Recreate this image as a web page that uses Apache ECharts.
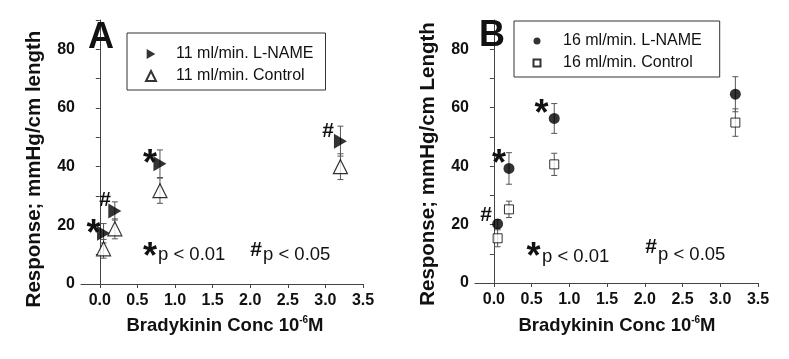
<!DOCTYPE html>
<html>
<head>
<meta charset="utf-8">
<script src="https://cdn.jsdelivr.net/npm/echarts@6/dist/echarts.min.js"></script>
<style>
html,body{margin:0;padding:0;background:#fff;}
#chart{width:789px;height:359px;}
</style>
</head>
<body>
<div id="chart"></div>
<script>
// ---- data ----
const concs = [0.05, 0.2, 0.8, 3.2];              // Bradykinin conc (10^-6 M)
const aLname = [17.3, 24.9, 41.0, 48.7];          // 11 ml/min L-NAME
const aLnameErr = [3.3, 3.1, 4.7, 5.1];
const aCtrl = [12.0, 18.8, 31.8, 40.0];           // 11 ml/min Control
const aCtrlErr = [3.2, 3.4, 4.3, 4.4];
const bLname = [20.2, 39.2, 56.3, 64.6];          // 16 ml/min L-NAME
const bLnameErr = [1.5, 5.4, 5.1, 6.0];
const bCtrl = [15.3, 25.2, 40.6, 54.9];           // 16 ml/min Control
const bCtrlErr = [2.9, 2.8, 3.8, 4.7];
const xTickVals = [0, 0.5, 1, 1.5, 2, 2.5, 3, 3.5];
const yTickVals = [0, 20, 40, 60, 80];

const FONT = '"Liberation Sans", Arial, sans-serif';
const pts = (ys) => concs.map((x, i) => [x, ys[i]]);
const errPts = (ys, es) => concs.map((x, i) => [x, ys[i], es[i]]);

function errItem(params, api) {
  const x = api.value(0), y = api.value(1), e = api.value(2);
  const t = api.coord([x, y + e]), b = api.coord([x, y - e]);
  const w = 3;
  const st = { stroke: '#555', lineWidth: 1 };
  return { type: 'group', children: [
    { type: 'line', shape: { x1: t[0], y1: t[1], x2: b[0], y2: b[1] }, style: st },
    { type: 'line', shape: { x1: t[0] - w, y1: t[1], x2: t[0] + w, y2: t[1] }, style: st },
    { type: 'line', shape: { x1: b[0] - w, y1: b[1], x2: b[0] + w, y2: b[1] }, style: st }
  ]};
}

function xAxisDef(gi) {
  return {
    gridIndex: gi, type: 'value', min: -0.25, max: 3.5, interval: 0.25,
    axisLine: { show: true, onZero: false, lineStyle: { color: '#444', width: 1 } },
    axisTick: { show: true, inside: false, length: 4, customValues: xTickVals, lineStyle: { color: '#444' } },
    axisLabel: { customValues: xTickVals, formatter: v => v.toFixed(1), margin: 9,
      fontFamily: FONT, fontWeight: 'bold', fontSize: 16, color: '#111' },
    splitLine: { show: false }
  };
}
function yAxisDef(gi) {
  return {
    gridIndex: gi, type: 'value', min: 0, max: 90, interval: 10,
    axisLine: { show: true, lineStyle: { color: '#444', width: 1 } },
    axisTick: { show: true, inside: false, length: 4, lineStyle: { color: '#444' } },
    axisLabel: { customValues: yTickVals, margin: 6,
      fontFamily: FONT, fontWeight: 'bold', fontSize: 16, color: '#111' },
    splitLine: { show: false }
  };
}

const triRight = 'path://M0,0L13,7.5L0,15Z';

function txt(x, y, s, size, weight, align) {
  return { type: 'text', x: x, y: y, silent: true, z: 10,
    style: { text: s, fontFamily: FONT, fontSize: size, fontWeight: weight || 'normal',
      fill: '#111', align: align || 'center', verticalAlign: 'middle' } };
}
const star = (x, y) => txt(x, y + 8, '*', 36, 'bold');
const hash = (x, y) => txt(x, y, '#', 21, 'bold');
const ptxt = (x, y, s) => txt(x, y, s, 18.5, 'normal', 'left');

function xTitle(cx, cy) {
  return { type: 'text', x: cx, y: cy, silent: true,
    style: { text: '{a|Bradykinin Conc 10}{s|-6}{a|M}', align: 'center', verticalAlign: 'middle',
      rich: {
        a: { fontFamily: FONT, fontSize: 18.5, fontWeight: 'bold', fill: '#111' },
        s: { fontFamily: FONT, fontSize: 10, fontWeight: 'bold', fill: '#111', padding: [0, 0, 12, 0] }
      } } };
}
function yTitle(cx, cy, s) {
  return { type: 'text', x: cx, y: cy, rotation: Math.PI / 2, silent: true,
    style: { text: s, fontFamily: FONT, fontSize: 20.5, fontWeight: 'bold', fill: '#111',
      align: 'center', verticalAlign: 'middle' } };
}

const chart = echarts.init(document.getElementById('chart'), null, { renderer: 'canvas' });
chart.setOption({
  animation: false,
  backgroundColor: '#fff',
  grid: [
    { left: 81, top: 20, width: 282, height: 264 },
    { left: 475, top: 20, width: 283, height: 263 }
  ],
  xAxis: [xAxisDef(0), xAxisDef(1)],
  yAxis: [yAxisDef(0), yAxisDef(1)],
  legend: [
    { orient: 'vertical', left: 127, top: 33, itemWidth: 10, itemHeight: 10, itemGap: 6,
      padding: [13, 12, 6, 18], borderColor: '#333', borderWidth: 1, borderRadius: 0,
      textStyle: { fontFamily: FONT, fontSize: 16, color: '#111', lineHeight: 16, padding: [0, 0, 0, 15] },
      data: ['11 ml/min. L-NAME', '11 ml/min. Control'] },
    { orient: 'vertical', left: 514, top: 21, itemWidth: 7, itemHeight: 7, itemGap: 6,
      padding: [12, 18, 6, 18.5], borderColor: '#333', borderWidth: 1, borderRadius: 0,
      textStyle: { fontFamily: FONT, fontSize: 16, color: '#111', lineHeight: 16, padding: [0, 0, 0, 17.5] },
      data: ['16 ml/min. L-NAME', '16 ml/min. Control'] }
  ],
  series: [
    { type: 'custom', xAxisIndex: 0, yAxisIndex: 0, renderItem: errItem, data: errPts(aLname, aLnameErr), silent: true, z: 1 },
    { type: 'custom', xAxisIndex: 0, yAxisIndex: 0, renderItem: errItem, data: errPts(aCtrl, aCtrlErr), silent: true, z: 1 },
    { type: 'custom', xAxisIndex: 1, yAxisIndex: 1, renderItem: errItem, data: errPts(bLname, bLnameErr), silent: true, z: 1 },
    { type: 'custom', xAxisIndex: 1, yAxisIndex: 1, renderItem: errItem, data: errPts(bCtrl, bCtrlErr), silent: true, z: 1 },
    { name: '11 ml/min. L-NAME', type: 'scatter', xAxisIndex: 0, yAxisIndex: 0, z: 3,
      symbol: triRight, symbolSize: [13, 15], itemStyle: { color: '#000' }, data: pts(aLname) },
    { name: '11 ml/min. Control', type: 'scatter', xAxisIndex: 0, yAxisIndex: 0, z: 3,
      symbol: 'triangle', symbolSize: [14, 14], itemStyle: { color: '#fff', borderColor: '#000', borderWidth: 1.2 }, data: pts(aCtrl) },
    { name: '16 ml/min. L-NAME', type: 'scatter', xAxisIndex: 1, yAxisIndex: 1, z: 3,
      symbol: 'circle', symbolSize: 11, itemStyle: { color: '#000' }, data: pts(bLname) },
    { name: '16 ml/min. Control', type: 'scatter', xAxisIndex: 1, yAxisIndex: 1, z: 3,
      symbol: 'rect', symbolSize: 9, itemStyle: { color: '#fff', borderColor: '#000', borderWidth: 1 }, data: pts(bCtrl) }
  ],
  graphic: [
    txt(88, 38.5, 'A', 36, 'bold', 'left'),
    txt(479, 36.5, 'B', 36, 'bold', 'left'),
    yTitle(34, 169, 'Response; mmHg/cm length'),
    yTitle(428, 164, 'Response; mmHg/cm Length'),
    xTitle(225, 326),
    xTitle(617, 326),
    // panel A significance marks
    star(93.5, 227.5),
    hash(105, 200),
    star(150, 157.5),
    hash(328, 131),
    star(150, 250),
    ptxt(158, 255, 'p < 0.01'),
    hash(256, 250),
    ptxt(263, 255, 'p < 0.05'),
    // panel B significance marks
    hash(486, 215),
    star(499, 157.5),
    star(541.5, 107.5),
    star(533.5, 250),
    ptxt(542, 256.5, 'p < 0.01'),
    hash(651, 247.5),
    ptxt(658, 255, 'p < 0.05')
  ]
});
</script>
</body>
</html>
